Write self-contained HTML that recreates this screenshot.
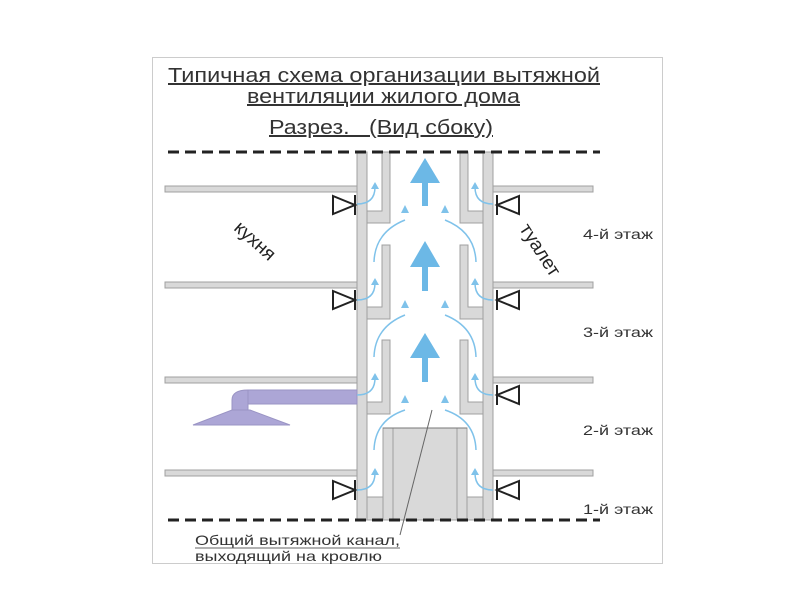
<!DOCTYPE html>
<html><head><meta charset="utf-8"><style>
html,body{margin:0;padding:0;background:#fff;}
svg{display:block;}
text{font-family:"Liberation Sans",sans-serif;}
</style></head><body>
<svg width="800" height="600" viewBox="0 0 800 600" xmlns="http://www.w3.org/2000/svg">
<rect x="152.5" y="57.5" width="510" height="506" fill="#fff" stroke="#ccc"/>
<g fill="#333" font-size="20" text-decoration="underline">
<text x="168" y="82" textLength="432" lengthAdjust="spacingAndGlyphs">Типичная схема организации вытяжной</text>
<text x="247" y="103" textLength="273" lengthAdjust="spacingAndGlyphs">вентиляции жилого дома</text>
<text x="269" y="134" textLength="224" lengthAdjust="spacingAndGlyphs">Разрез.&#160;&#160;&#160;(Вид сбоку)</text>
</g>
<g fill="#d9d9d9" stroke="#a0a0a0" stroke-width="1">
<rect x="165" y="186" width="192" height="6"/><rect x="165" y="282" width="192" height="6"/>
<rect x="165" y="377" width="192" height="6"/><rect x="165" y="470" width="192" height="6"/>
<rect x="493" y="186" width="100" height="6"/><rect x="493" y="282" width="100" height="6"/>
<rect x="493" y="377" width="100" height="6"/><rect x="493" y="470" width="100" height="6"/>
<rect x="357" y="152" width="10" height="368"/><rect x="483" y="152" width="10" height="368"/>
<path d="M382 152 H390 V223 H367 V211 H382 Z"/>
<path d="M382 245 H390 V319 H367 V307 H382 Z"/>
<path d="M382 340 H390 V414 H367 V402 H382 Z"/>
<path d="M468 152 H460 V223 H483 V211 H468 Z"/>
<path d="M468 245 H460 V319 H483 V307 H468 Z"/>
<path d="M468 340 H460 V414 H483 V402 H468 Z"/>
<rect x="367" y="497" width="16" height="23"/><rect x="467" y="497" width="16" height="23"/>
<rect x="383" y="428" width="84" height="92"/>
</g>
<g stroke="#a0a0a0" fill="none"><line x1="393" y1="428" x2="393" y2="520"/><line x1="457" y1="428" x2="457" y2="520"/><line x1="383" y1="428" x2="467" y2="428" stroke="#777"/></g>
<g stroke="#222" stroke-width="3" stroke-dasharray="11,6">
<line x1="168" y1="152" x2="600" y2="152"/><line x1="168" y1="520" x2="600" y2="520"/>
</g>
<g fill="#aca6d6" stroke="#9a94c4">
<rect x="248" y="390" width="109" height="14"/>
<path d="M232 410 V400 Q232 390 248 390 V410 Z"/>
<polygon points="193,425 290,425 250,410 232,410"/>
</g>
<g fill="#6cb8e6">
<polygon points="425,158 410,183 440,183"/><rect x="422" y="182" width="6" height="24"/>
<polygon points="425,241 410,267 440,267"/><rect x="422" y="266" width="6" height="25"/>
<polygon points="425,333 410,358 440,358"/><rect x="422" y="357" width="6" height="25"/>
</g>
<g stroke="#7fc2ea" stroke-width="1.5" fill="none">
<path d="M357 204 Q375 204 375 187"/><path d="M357 300 Q375 300 375 283"/><path d="M357 395 Q375 395 375 378"/><path d="M357 490 Q375 490 375 473"/>
<path d="M493 204 Q475 204 475 187"/><path d="M493 300 Q475 300 475 283"/><path d="M493 395 Q475 395 475 378"/><path d="M493 490 Q475 490 475 473"/>
<path d="M374 262 Q375 232 405 220"/><path d="M374 357 Q375 327 405 315"/><path d="M374 450 Q375 420 405 410"/>
<path d="M476 262 Q475 232 445 220"/><path d="M476 357 Q475 327 445 315"/><path d="M476 450 Q475 420 445 410"/>
</g>
<g fill="#7fc2ea">
<polygon points="375,182 371,189 379,189"/><polygon points="375,278 371,285 379,285"/><polygon points="375,373 371,380 379,380"/><polygon points="375,468 371,475 379,475"/>
<polygon points="475,182 471,189 479,189"/><polygon points="475,278 471,285 479,285"/><polygon points="475,373 471,380 479,380"/><polygon points="475,468 471,475 479,475"/>
<polygon points="405,205 401,213 409,213"/><polygon points="405,300 401,308 409,308"/><polygon points="405,395 401,403 409,403"/>
<polygon points="445,205 441,213 449,213"/><polygon points="445,300 441,308 449,308"/><polygon points="445,395 441,403 449,403"/>
</g>
<g stroke="#222" stroke-width="2" fill="#fff">
<path d="M333 196 L355 205 L333 214 Z M355 195 V215"/>
<path d="M333 291 L355 300 L333 309 Z M355 290 V310"/>
<path d="M333 481 L355 490 L333 499 Z M355 480 V500"/>
<path d="M519 196 L497 205 L519 214 Z M497 195 V215"/>
<path d="M519 291 L497 300 L519 309 Z M497 290 V310"/>
<path d="M519 386 L497 395 L519 404 Z M497 385 V405"/>
<path d="M519 481 L497 490 L519 499 Z M497 480 V500"/>
</g>
<g fill="#222" font-size="19">
<text x="255" y="247" text-anchor="middle" transform="rotate(42 255 241)">кухня</text>
<text x="540" y="256" text-anchor="middle" transform="rotate(57 540 250)">туалет</text>
</g>
<g fill="#333" font-size="14">
<text x="583" y="239" textLength="70" lengthAdjust="spacingAndGlyphs">4-й этаж</text>
<text x="583" y="337" textLength="70" lengthAdjust="spacingAndGlyphs">3-й этаж</text>
<text x="583" y="435" textLength="70" lengthAdjust="spacingAndGlyphs">2-й этаж</text>
<text x="583" y="514" textLength="70" lengthAdjust="spacingAndGlyphs">1-й этаж</text>
</g>
<line x1="400" y1="535" x2="432" y2="410" stroke="#666"/>
<g fill="#333" font-size="14">
<text x="195" y="545" textLength="205" lengthAdjust="spacingAndGlyphs">Общий вытяжной канал,</text>
<text x="195" y="561" textLength="187" lengthAdjust="spacingAndGlyphs">выходящий на кровлю</text>
</g>
<line x1="195" y1="548" x2="400" y2="548" stroke="#666"/>
</svg>
</body></html>
